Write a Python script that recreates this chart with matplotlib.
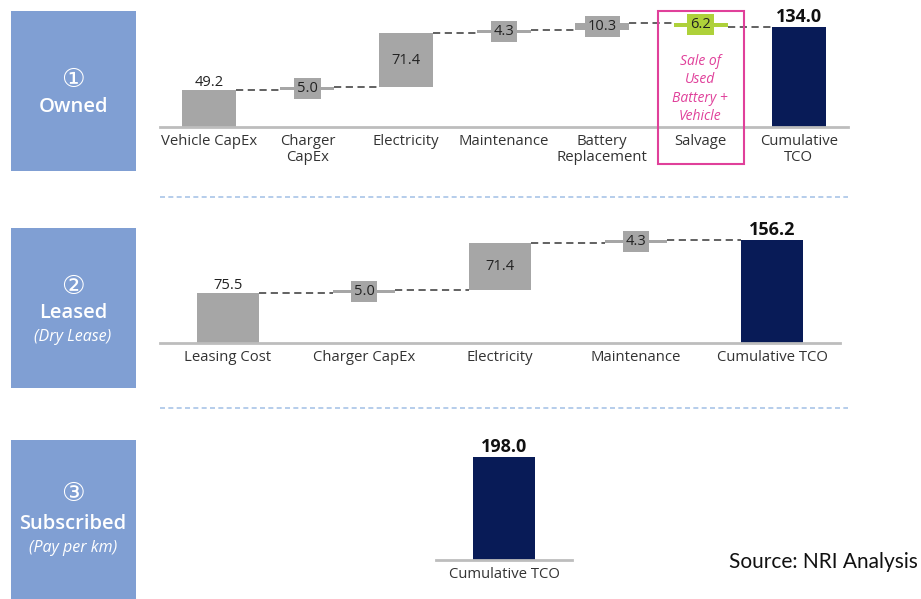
import matplotlib
matplotlib.use("Agg")
import matplotlib.pyplot as plt
from matplotlib.patches import Rectangle
from matplotlib.lines import Line2D
import numpy as np

plt.rcParams['font.family'] = ['Open Sans', 'DejaVu Sans']

# data
own_cats = ["Vehicle CapEx", "Charger\nCapEx", "Electricity", "Maintenance",
            "Battery\nReplacement", "Salvage", "Cumulative\nTCO"]
own_vals = [49.2, 5.0, 71.4, 4.3, 10.3, -6.2]
own_total = 134.0

lease_cats = ["Leasing Cost", "Charger CapEx", "Electricity", "Maintenance", "Cumulative TCO"]
lease_vals = [75.5, 5.0, 71.4, 4.3]
lease_total = 156.2

sub_cats = ["Cumulative TCO"]
sub_total = 198.0

panel_names = ["Owned", "Leased", "Subscribed"]
panel_notes = ["", "(Dry Lease)", "(Pay per km)"]
panel_marks = ["\u2460", "\u2461", "\u2462"]

W, H = 921, 599
GREY = "#a6a6a6"
NAVY = "#081b57"
LIME = "#aed13a"
PINK = "#e0409a"
BOXBLUE = "#809fd3"

fig = plt.figure(figsize=(W / 100, H / 100), dpi=100)


def px_axes(x0, x1, ytop, ybot):
    return fig.add_axes([x0 / W, 1 - ybot / H, (x1 - x0) / W, (ybot - ytop) / H])


def style_axes(ax, cats, ymax, n):
    ax.set_xlim(-0.5, n - 0.5)
    ax.set_ylim(0, ymax)
    for s in ["top", "right", "left"]:
        ax.spines[s].set_visible(False)
    ax.spines["bottom"].set_color("#bdbdbd")
    ax.spines["bottom"].set_linewidth(2)
    ax.set_yticks([])
    ax.set_xticks(range(len(cats)))
    ax.set_xticklabels(cats, fontsize=10.7, color="#333333", linespacing=1.1)
    ax.tick_params(axis="x", length=0, pad=5)
    ax.patch.set_alpha(0)


def waterfall(ax, vals, total, width, last_color=LIME):
    level = 0.0
    n = len(vals)
    for i, v in enumerate(vals):
        color = GREY
        if v < 0:
            color = last_color
        bottom = level if v >= 0 else level + v
        ax.bar(i, abs(v), width, bottom=bottom, color=color, zorder=2)
        new_level = level + v
        if i == 0:
            ax.text(i, new_level + 1, f"{v:.1f}", ha="center", va="bottom",
                    fontsize=10.5, color="#222222")
        elif abs(v) >= 20:
            ax.text(i, bottom + abs(v) / 2, f"{v:.1f}", ha="center", va="center",
                    fontsize=10.5, color="#222222", zorder=3)
        else:
            ax.text(i, bottom + abs(v) / 2, f"{abs(v):.1f}", ha="center", va="center",
                    fontsize=10.5, color="#222222", zorder=3,
                    bbox=dict(boxstyle="square,pad=0.2", fc=color, ec="none"))
        # connector to next bar
        ax.plot([i + width / 2, i + 1 - width / 2], [new_level, new_level],
                ls=(0, (4, 2.5)), color="#555555", lw=1.3, zorder=1)
        level = new_level
    ax.bar(n, total, width, color=NAVY, zorder=2)
    ax.text(n, total + 2, f"{total:.1f}", ha="center", va="bottom",
            fontsize=13, fontweight="bold", color="#111111")


# panel 1: owned
ax1 = px_axes(160, 848, 0, 127)
style_axes(ax1, own_cats, 127 / 0.745, len(own_cats))
waterfall(ax1, own_vals, own_total, 0.55)

# panel 2: leased
ax2 = px_axes(160, 840, 200, 343)
style_axes(ax2, lease_cats, 143 / 0.66, len(lease_cats))
waterfall(ax2, lease_vals, lease_total, 0.45)

# panel 3: subscribed
ax3 = px_axes(436, 572, 420, 560)
style_axes(ax3, sub_cats, 140 / 0.52, 1)
ax3.bar(0, sub_total, 0.45, color=NAVY, zorder=2)
ax3.text(0, sub_total + 2, f"{sub_total:.1f}", ha="center", va="bottom",
         fontsize=13, fontweight="bold", color="#111111")

# salvage highlight box
fig.patches.append(Rectangle((658 / W, 1 - 164 / H), 86 / W, 153 / H,
                             transform=fig.transFigure, fill=False,
                             ec=PINK, lw=1.5))
fig.text(700 / W, 1 - 89 / H, "Sale of\nUsed\nBattery +\nVehicle", ha="center",
         va="center", fontsize=10, style="italic", color=PINK, linespacing=1.3)

# left label boxes
boxes = [(11, 171), (228, 388), (440, 605)]
mark_y = [80, 287, 494]
name_y = [107, 313, 524]
note_y = [None, 337, 548]
for k, (y0, y1) in enumerate(boxes):
    fig.patches.append(Rectangle((11 / W, 1 - y1 / H), 125 / W, (y1 - y0) / H,
                                 transform=fig.transFigure, fc=BOXBLUE, ec="none"))
    fig.text(73 / W, 1 - mark_y[k] / H, panel_marks[k], ha="center", va="center",
             fontsize=19, color="white", family=["DejaVu Sans", "Noto Sans CJK JP"])
    fig.text(73 / W, 1 - name_y[k] / H, panel_names[k], ha="center", va="center",
             fontsize=14.5, fontweight="semibold", color="white")
    if panel_notes[k]:
        fig.text(73 / W, 1 - note_y[k] / H, panel_notes[k], ha="center", va="center",
                 fontsize=11.5, style="italic", color="white")

# separators
for y in [197, 408]:
    fig.lines.append(Line2D([160 / W, 848 / W], [1 - y / H, 1 - y / H],
                            transform=fig.transFigure, color="#a9c5e8",
                            lw=1.2, ls=(0, (3, 2))))

fig.text(918 / W, 1 - 562 / H, "Source: NRI Analysis", ha="right", va="center",
         fontsize=15, color="#111111", family=["Lato", "DejaVu Sans"])

fig.savefig("out.png", dpi=100)
